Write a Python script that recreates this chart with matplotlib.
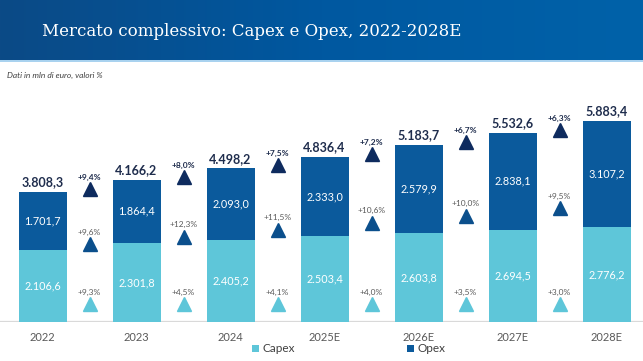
import numpy as np
import matplotlib
matplotlib.use("Agg")
import matplotlib.pyplot as plt
from matplotlib.patches import Patch
from matplotlib.colors import LinearSegmentedColormap

# ---------------- data ----------------
years = ["2022", "2023", "2024", "2025E", "2026E", "2027E", "2028E"]
capex = [2106.6, 2301.8, 2405.2, 2503.4, 2603.8, 2694.5, 2776.2]
opex = [1701.7, 1864.4, 2093.0, 2333.0, 2579.9, 2838.1, 3107.2]
growth_total = [9.4, 8.0, 7.5, 7.2, 6.7, 6.3]
growth_opex = [9.6, 12.3, 11.5, 10.6, 10.0, 9.5]
growth_capex = [9.3, 4.5, 4.1, 4.0, 3.5, 3.0]

title = "Mercato complessivo: Capex e Opex, 2022-2028E"
subtitle = "Dati in mln di euro, valori %"

# ---------------- style ----------------
C_CAPEX = "#5ec6d9"
C_OPEX = "#0b5a9c"
C_TOT = "#0e2b5e"
C_OPEX_TRI = "#0b4f8c"
C_TEXT_DARK = "#1f2d4d"
C_GREY = "#595959"

W, H = 643, 361
fig = plt.figure(figsize=(W / 100, H / 100), dpi=100)
fig.patch.set_facecolor("white")


def fmt(v):
    s = f"{v:,.1f}"
    return s.replace(",", "X").replace(".", ",").replace("X", ".")


def pct(v):
    return "+" + f"{v:.1f}".replace(".", ",") + "%"


# ---------------- header ----------------
hdr_h = 60
axh = fig.add_axes([0, 1 - hdr_h / H, 1, hdr_h / H])
cmap = LinearSegmentedColormap.from_list("hdr", ["#0b4a86", "#0058a0", "#0062a9"])
grad = np.linspace(0, 1, 256).reshape(1, -1)
axh.imshow(grad, aspect="auto", cmap=cmap, extent=[0, 1, 0, 1])
axh.set_axis_off()
axl = fig.add_axes([0, 1 - (hdr_h + 1.5) / H, 1, 1.5 / H])
axl.set_facecolor("#a9d2ef")
axl.set_xticks([]); axl.set_yticks([])
for s in axl.spines.values():
    s.set_visible(False)

t = fig.text(42 / W, 1 - 36 / H, title, color="white", family="DejaVu Serif",
             fontsize=12.5, va="baseline", ha="left")
fig.canvas.draw()
bb = t.get_window_extent()
t.set_fontsize(12.5 * 420 / bb.width)

fig.text(7 / W, 1 - 75 / H, subtitle, family="Lato", style="italic", fontsize=6,
         color="#404040", va="center", ha="left")

# ---------------- main axes ----------------
bottom_px, top_px = 322, 90
ax = fig.add_axes([0, 1 - bottom_px / H, 1, (bottom_px - top_px) / H])
x = np.arange(len(years))
ax.set_xlim((0 - 42.5) / 94, (W - 42.5) / 94)
ax.set_ylim(0, (bottom_px - top_px) / 0.0342)
ax.set_axis_off()

capex_a = np.array(capex)
opex_a = np.array(opex)
totals = capex_a + opex_a
bw = 48 / 94

ax.bar(x, capex_a, width=bw, color=C_CAPEX, zorder=2)
ax.bar(x, opex_a, width=bw, bottom=capex_a, color=C_OPEX, zorder=2)
ax.axhline(0, color="#d9d9d9", lw=1.6, zorder=1)

for i in range(len(years)):
    ax.text(x[i], capex_a[i] / 2, fmt(capex_a[i]), ha="center", va="center",
            color="white", family="Lato", fontsize=7.8)
    ax.text(x[i], capex_a[i] + opex_a[i] / 2, fmt(opex_a[i]), ha="center", va="center",
            color="white", family="Lato", fontsize=7.8)
    ax.annotate(fmt(totals[i]), (x[i], totals[i]), xytext=(0, 2.5), textcoords="offset points",
                ha="center", va="bottom", color=C_TEXT_DARK, family="Lato",
                fontweight="bold", fontsize=9)
    ax.annotate(years[i], (x[i], 0), xytext=(0, -11), textcoords="offset points",
                ha="center", va="center", color=C_GREY, family="Lato", fontsize=8)

# growth markers between bars
gx = x[:-1] + 0.5
y_top = totals[:-1] + 80
y_mid = 0.6 * totals[:-1]
y_bot = np.full(len(gx), 0.09 * totals.max())

ax.plot(gx, y_top, ls="none", marker="^", ms=10, color=C_TOT, zorder=3)
ax.plot(gx, y_mid, ls="none", marker="^", ms=10, color=C_OPEX_TRI, zorder=3)
ax.plot(gx, y_bot, ls="none", marker="^", ms=10, color=C_CAPEX, zorder=3)

for i in range(len(gx)):
    ax.annotate(pct(growth_total[i]), (gx[i], y_top[i]), xytext=(0, 8.5),
                textcoords="offset points", ha="center", va="center",
                color=C_TEXT_DARK, family="Lato", fontweight="bold", fontsize=6)
    ax.annotate(pct(growth_opex[i]), (gx[i], y_mid[i]), xytext=(0, 8.5),
                textcoords="offset points", ha="center", va="center",
                color=C_GREY, family="Lato", fontsize=6)
    ax.annotate(pct(growth_capex[i]), (gx[i], y_bot[i]), xytext=(0, 8.5),
                textcoords="offset points", ha="center", va="center",
                color=C_GREY, family="Lato", fontsize=6)

# ---------------- legend ----------------
handles = [Patch(facecolor=C_CAPEX, label="Capex"), Patch(facecolor=C_OPEX, label="Opex")]
fig.legend(handles=handles, loc="center", bbox_to_anchor=(349 / W, 1 - 349 / H), ncol=2,
           frameon=False, prop={"family": "Lato", "size": 8.5}, handlelength=0.6,
           handleheight=0.6, handletextpad=0.3, columnspacing=9.5, labelcolor="#404040")

fig.savefig("out.png", dpi=100, facecolor="white")
